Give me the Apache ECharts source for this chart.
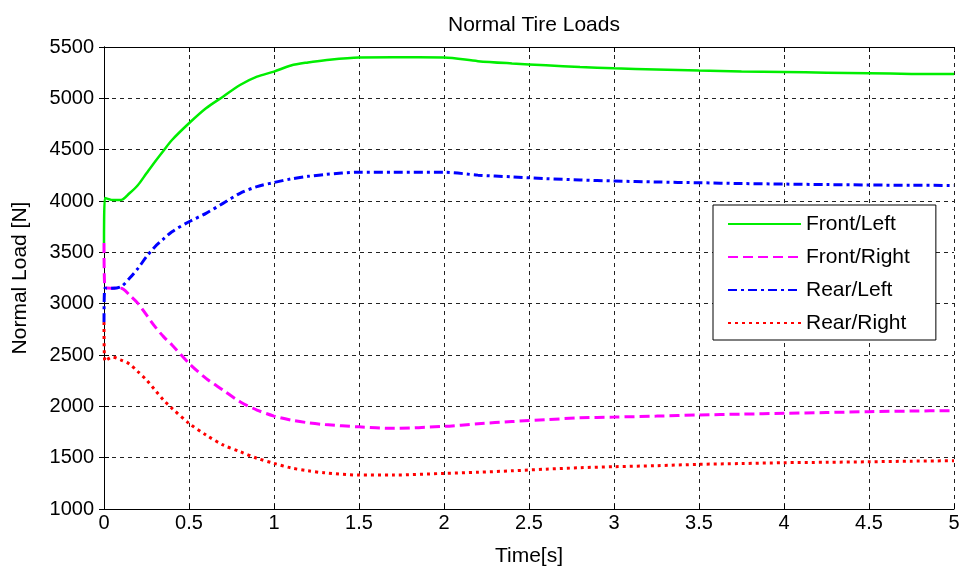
<!DOCTYPE html>
<html>
<head>
<meta charset="utf-8">
<title>Normal Tire Loads</title>
<script src="https://cdn.jsdelivr.net/npm/echarts@6/dist/echarts.min.js"></script>
<style>
  html, body { margin: 0; padding: 0; background: #fff; }
  #chart { width: 966px; height: 572px; }
</style>
</head>
<body>
<div id="chart"></div>
<script>
// time samples [s]
const timeS = [0, 0.005, 0.05, 0.1, 0.15, 0.2, 0.25, 0.3, 0.35, 0.4, 0.5, 0.6, 0.7, 0.8, 0.9, 1.0,
  1.1, 1.2, 1.3, 1.5, 1.7, 2.0, 2.2, 2.4, 2.6, 2.8, 3.0, 3.25, 3.5, 3.75, 4.0, 4.25, 4.5, 4.75, 5.0];

// normal loads [N]
const frontLeft = [3590, 4030, 4010, 4010, 4075, 4156, 4270, 4383, 4490, 4594, 4757, 4903, 5016, 5130, 5211, 5260,
  5320, 5350, 5372, 5398, 5400, 5398, 5362, 5340, 5322, 5305, 5292, 5280, 5270, 5262, 5256, 5250, 5244, 5238, 5236];
const frontRight = [3590, 3160, 3150, 3150, 3084, 3003, 2890, 2776, 2679, 2597, 2419, 2273, 2159, 2045, 1964, 1905,
  1866, 1840, 1822, 1800, 1786, 1805, 1830, 1852, 1870, 1888, 1895, 1905, 1916, 1924, 1932, 1940, 1948, 1954, 1958];
const rearLeft = [2820, 3150, 3150, 3166, 3247, 3344, 3458, 3555, 3630, 3701, 3798, 3880, 3977, 4075, 4140, 4180,
  4215, 4240, 4258, 4280, 4280, 4280, 4252, 4235, 4218, 4205, 4195, 4185, 4178, 4170, 4165, 4160, 4156, 4153, 4152];
const rearRight = [2820, 2440, 2480, 2451, 2412, 2337, 2257, 2159, 2062, 1981, 1835, 1721, 1624, 1559, 1494, 1445,
  1400, 1372, 1352, 1331, 1331, 1347, 1358, 1372, 1388, 1402, 1412, 1422, 1435, 1443, 1451, 1455, 1460, 1466, 1470];

const seriesNames = ['Front/Left', 'Front/Right', 'Rear/Left', 'Rear/Right'];

const pairs = (vals) => timeS.map((t, i) => [t, vals[i]]);

const font = 'Liberation Sans, Arial, sans-serif';

const chart = echarts.init(document.getElementById('chart'));

const gridDash = { color: '#222', width: 1, type: [4, 4] };

const option = {
  backgroundColor: '#fff',
  animation: false,
  title: {
    text: 'Normal Tire Loads',
    left: 529,
    top: 10,
    textAlign: 'center',
    textStyle: { color: '#000', fontSize: 21, fontWeight: 'normal', fontFamily: font }
  },
  legend: {
    data: seriesNames,
    orient: 'vertical',
    left: 713,
    top: 205,
    padding: [8, 26, 6, 14],
    itemWidth: 73,
    itemHeight: 14,
    itemGap: 11,
    itemTextGap: 6,
    backgroundColor: '#fff',
    borderColor: '#000',
    borderWidth: 1,
    borderRadius: 0,
    itemStyle: { opacity: 0 },
    textStyle: { color: '#000', fontSize: 21, lineHeight: 22, fontFamily: font }
  },
  grid: { left: 104, right: 12, top: 47, bottom: 63 },
  xAxis: [
    {
      type: 'value',
      min: 0,
      max: 5,
      interval: 0.5,
      name: 'Time[s]',
      nameLocation: 'middle',
      nameGap: 37,
      nameTextStyle: { color: '#000', fontSize: 21, fontFamily: font },
      axisLine: { show: true, lineStyle: { color: '#000', width: 1 } },
      axisTick: { show: true, inside: true, length: 5, lineStyle: { color: '#000' } },
      axisLabel: { color: '#000', fontSize: 20, margin: 4, fontFamily: font },
      splitLine: { show: true, lineStyle: gridDash }
    },
    {
      type: 'value',
      position: 'top',
      min: 0,
      max: 5,
      interval: 0.5,
      axisLine: { show: true, lineStyle: { color: '#000', width: 1 } },
      axisTick: { show: true, inside: true, length: 5, lineStyle: { color: '#000' } },
      axisLabel: { show: false },
      splitLine: { show: false }
    }
  ],
  yAxis: [
    {
      type: 'value',
      min: 1000,
      max: 5500,
      interval: 500,
      name: 'Normal Load [N]',
      nameLocation: 'middle',
      nameGap: 73,
      nameTextStyle: { color: '#000', fontSize: 21, fontFamily: font },
      axisLine: { show: true, lineStyle: { color: '#000', width: 1 } },
      axisTick: { show: true, inside: true, length: 5, lineStyle: { color: '#000' } },
      axisLabel: { color: '#000', fontSize: 20, margin: 10, fontFamily: font, formatter: (v) => String(v) },
      splitLine: { show: true, lineStyle: gridDash }
    },
    {
      type: 'value',
      position: 'right',
      min: 1000,
      max: 5500,
      interval: 500,
      axisLine: { show: true, lineStyle: { color: '#000', width: 1 } },
      axisTick: { show: true, inside: true, length: 5, lineStyle: { color: '#000' } },
      axisLabel: { show: false },
      splitLine: { show: false }
    }
  ],
  series: [
    {
      name: 'Front/Left', type: 'line', symbol: 'none', smooth: 0.3,
      color: '#00ee00',
      lineStyle: { color: '#00ee00', width: 2.5, type: 'solid' },
      data: pairs(frontLeft)
    },
    {
      name: 'Front/Right', type: 'line', symbol: 'none', smooth: 0.3,
      color: '#ff00ff',
      lineStyle: { color: '#ff00ff', width: 3, type: [10, 5] },
      data: pairs(frontRight)
    },
    {
      name: 'Rear/Left', type: 'line', symbol: 'none', smooth: 0.3,
      color: '#0000ff',
      lineStyle: { color: '#0000ff', width: 3, type: [9, 4, 3, 4] },
      data: pairs(rearLeft)
    },
    {
      name: 'Rear/Right', type: 'line', symbol: 'none', smooth: 0.3,
      color: '#ff0000',
      lineStyle: { color: '#ff0000', width: 3, type: [3, 4] },
      data: pairs(rearRight)
    }
  ]
};

chart.setOption(option);
</script>
</body>
</html>
